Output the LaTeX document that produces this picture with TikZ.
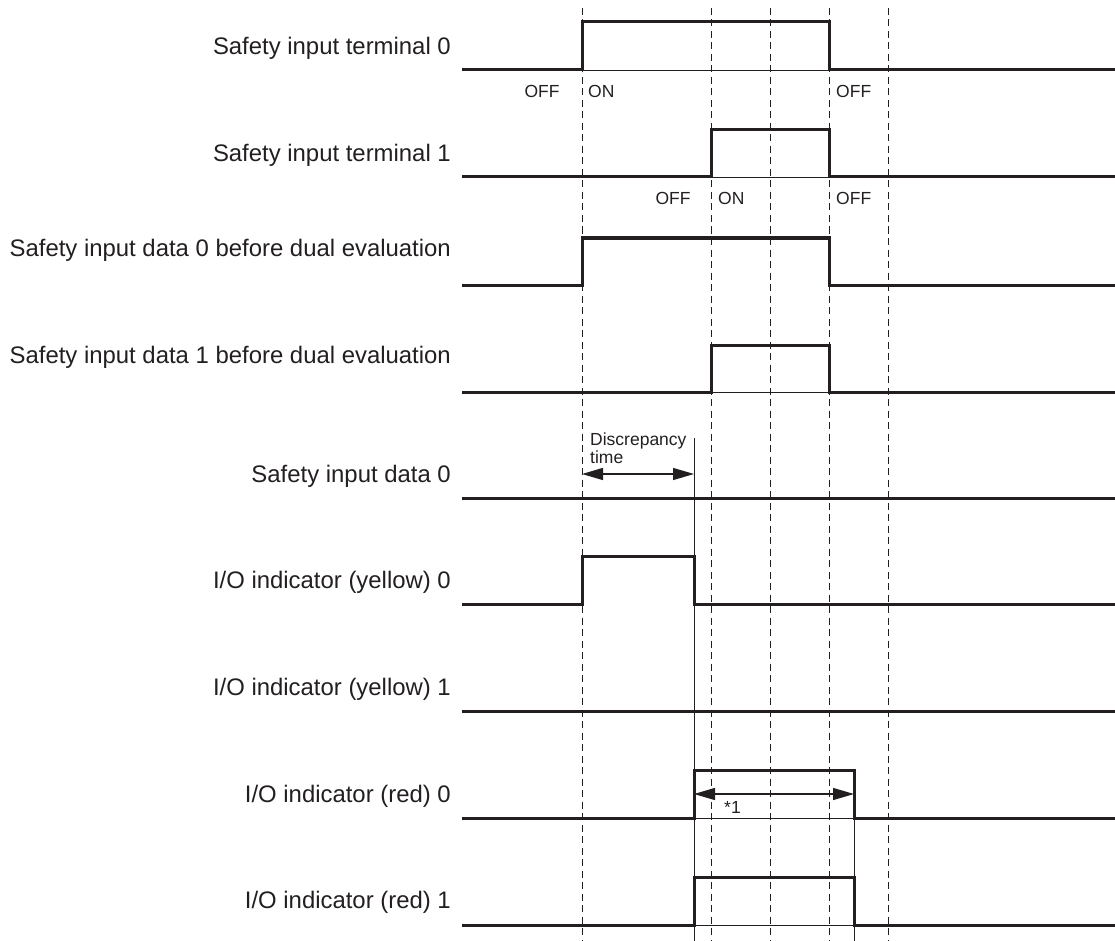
\documentclass[tikz,border=0pt]{standalone}
\usepackage{fontspec}
\setmainfont{Liberation Sans}
\usepackage{tikz}
\usetikzlibrary{arrows.meta}
\definecolor{ink}{HTML}{231F20}

\begin{document}
\begin{tikzpicture}[x=1pt, y=-1pt,
  sig/.style={ink, line width=3pt, line join=miter},
  base/.style={ink, line width=0.8pt},
  guide/.style={ink, line width=0.9pt, dash pattern=on 7pt off 4.5pt},
  lbl/.style={ink, anchor=base east, inner sep=0pt, font=\fontsize{23.9}{28}\selectfont},
  tag/.style={ink, inner sep=0pt, font=\fontsize{17.5}{16}\selectfont},
  span/.style={ink, line width=1.3pt, {Triangle[length=21pt,width=12pt]}-{Triangle[length=21pt,width=12pt]}}]
  \useasboundingbox (0,0) rectangle (1115,941);
  % Dashed timing guides
  \foreach \t in {582,711,770,829,888}
    \draw[guide] (\t,8) -- (\t,941);
  % Solid guides
  \draw[base] (694,438) -- (694,941);
  \draw[base] (854,770) -- (854,941);

  % Safety input terminal 0
  \node[lbl] (term0) at (451,54.5) {Safety input terminal 0};
  \draw[base] (582,70) -- (829,70);
  \draw[sig] (462,70) -- (582,70) -- (582,22) -- (829,22) -- (829,70) -- (1115,70);
  \node[tag, anchor=base] (off0a) at (542,98) {OFF};
  \node[tag, anchor=base west] (on0) at (588,98) {ON};
  \node[tag, anchor=base west] (off0b) at (836,98) {OFF};

  % Safety input terminal 1
  \node[lbl] (term1) at (451,161.5) {Safety input terminal 1};
  \draw[base] (711,177) -- (829,177);
  \draw[sig] (462,177) -- (711,177) -- (711,130) -- (829,130) -- (829,177) -- (1115,177);
  \node[tag, anchor=base] (off1a) at (673,205) {OFF};
  \node[tag, anchor=base west] (on1) at (718,205) {ON};
  \node[tag, anchor=base west] (off1b) at (836,205) {OFF};

  % Data before dual evaluation
  \node[lbl] (pre0) at (451,256.5) {Safety input data 0 before dual evaluation};
  \draw[sig] (462,285) -- (582,285) -- (582,238) -- (829,238) -- (829,285) -- (1115,285);
  \node[lbl] (pre1) at (451,363.5) {Safety input data 1 before dual evaluation};
  \draw[base] (711,392) -- (829,392);
  \draw[sig] (462,392) -- (711,392) -- (711,345) -- (829,345) -- (829,392) -- (1115,392);

  % Safety input data 0
  \node[lbl] (data0) at (451,482) {Safety input data 0};
  \draw[sig] (462,498) -- (1115,498);
  \node[tag, anchor=north west, align=left] (disc) at (590,433) {Discrepancy\\time};
  \coordinate (discL) at (582,474);
  \coordinate (discR) at (694,474);
  \draw[span] (discL) -- (discR);

  % I/O indicator (yellow)
  \node[lbl] (yel0) at (451,588.5) {I/O indicator (yellow) 0};
  \draw[sig] (462,604) -- (582,604) -- (582,556) -- (694,556) -- (694,604) -- (1115,604);
  \node[lbl] (yel1) at (451,695.5) {I/O indicator (yellow) 1};
  \draw[sig] (462,711) -- (1115,711);

  % I/O indicator (red)
  \node[lbl] (red0) at (451,802) {I/O indicator (red) 0};
  \draw[base] (694,818) -- (854,818);
  \draw[sig] (462,818) -- (694,818) -- (694,770) -- (854,770) -- (854,818) -- (1115,818);
  \coordinate (errL) at (694,794);
  \coordinate (errR) at (854,794);
  \draw[span] (errL) -- (errR);
  \node[tag, anchor=base west] (note) at (724,813) {*1};
  \node[lbl] (red1) at (451,908.5) {I/O indicator (red) 1};
  \draw[base] (694,925) -- (854,925);
  \draw[sig] (462,925) -- (694,925) -- (694,877) -- (854,877) -- (854,925) -- (1115,925);
\end{tikzpicture}
\end{document}
